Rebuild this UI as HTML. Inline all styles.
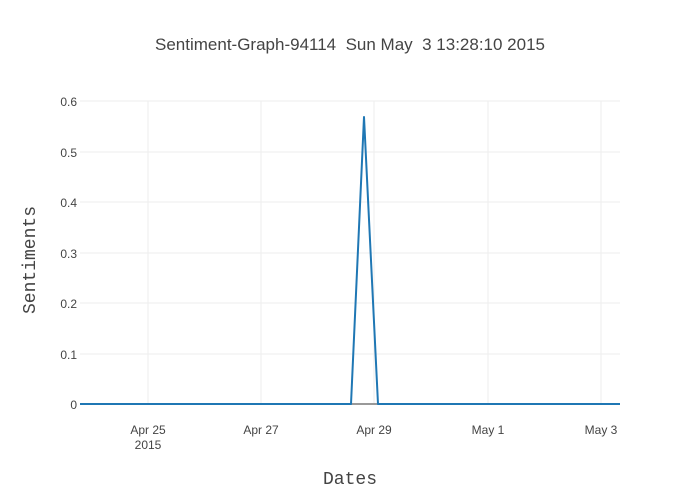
<!DOCTYPE html>
<html><head><style>body{margin:0;background:#fff}svg{display:block}text{white-space:pre}</style></head><body>
<svg width="700" height="500" xmlns="http://www.w3.org/2000/svg" font-family="'Liberation Sans', sans-serif">
<rect width="700" height="500" fill="#fff"/>
<g stroke="#eee" stroke-width="1">
<line x1="148" y1="101" x2="148" y2="404"/><line x1="261" y1="101" x2="261" y2="404"/><line x1="374" y1="101" x2="374" y2="404"/><line x1="488" y1="101" x2="488" y2="404"/><line x1="601" y1="101" x2="601" y2="404"/>
<line x1="80" y1="101" x2="620" y2="101"/><line x1="80" y1="152" x2="620" y2="152"/><line x1="80" y1="202" x2="620" y2="202"/><line x1="80" y1="253" x2="620" y2="253"/><line x1="80" y1="303" x2="620" y2="303"/><line x1="80" y1="354" x2="620" y2="354"/>
</g>
<line x1="351" y1="404" x2="378" y2="404" stroke="#999" stroke-width="2"/>
<polyline points="80,404 351,404 364,117 378,404 620,404" fill="none" stroke="#1f77b4" stroke-width="2" stroke-linejoin="round"/>
<g font-size="12" fill="#444" text-anchor="end">
<text x="77" y="106">0.6</text><text x="77" y="157">0.5</text><text x="77" y="207">0.4</text><text x="77" y="258">0.3</text><text x="77" y="308">0.2</text><text x="77" y="359">0.1</text><text x="77" y="409">0</text>
</g>
<g font-size="12" fill="#444" text-anchor="middle">
<text x="148" y="434">Apr 25</text><text x="148" y="449">2015</text><text x="261" y="434">Apr 27</text><text x="374" y="434">Apr 29</text><text x="488" y="434">May 1</text><text x="601" y="434">May 3</text>
</g>
<text x="350" y="50" font-size="17" fill="#444" text-anchor="middle" xml:space="preserve">Sentiment-Graph-94114&#160; Sun May&#160; 3 13:28:10 2015</text>
<text x="350" y="484" font-size="18" fill="#444" text-anchor="middle" font-family="'Liberation Mono', monospace">Dates</text>
<text transform="translate(35,260) rotate(-90)" font-size="18" fill="#444" text-anchor="middle" font-family="'Liberation Mono', monospace">Sentiments</text>
</svg>
</body></html>
